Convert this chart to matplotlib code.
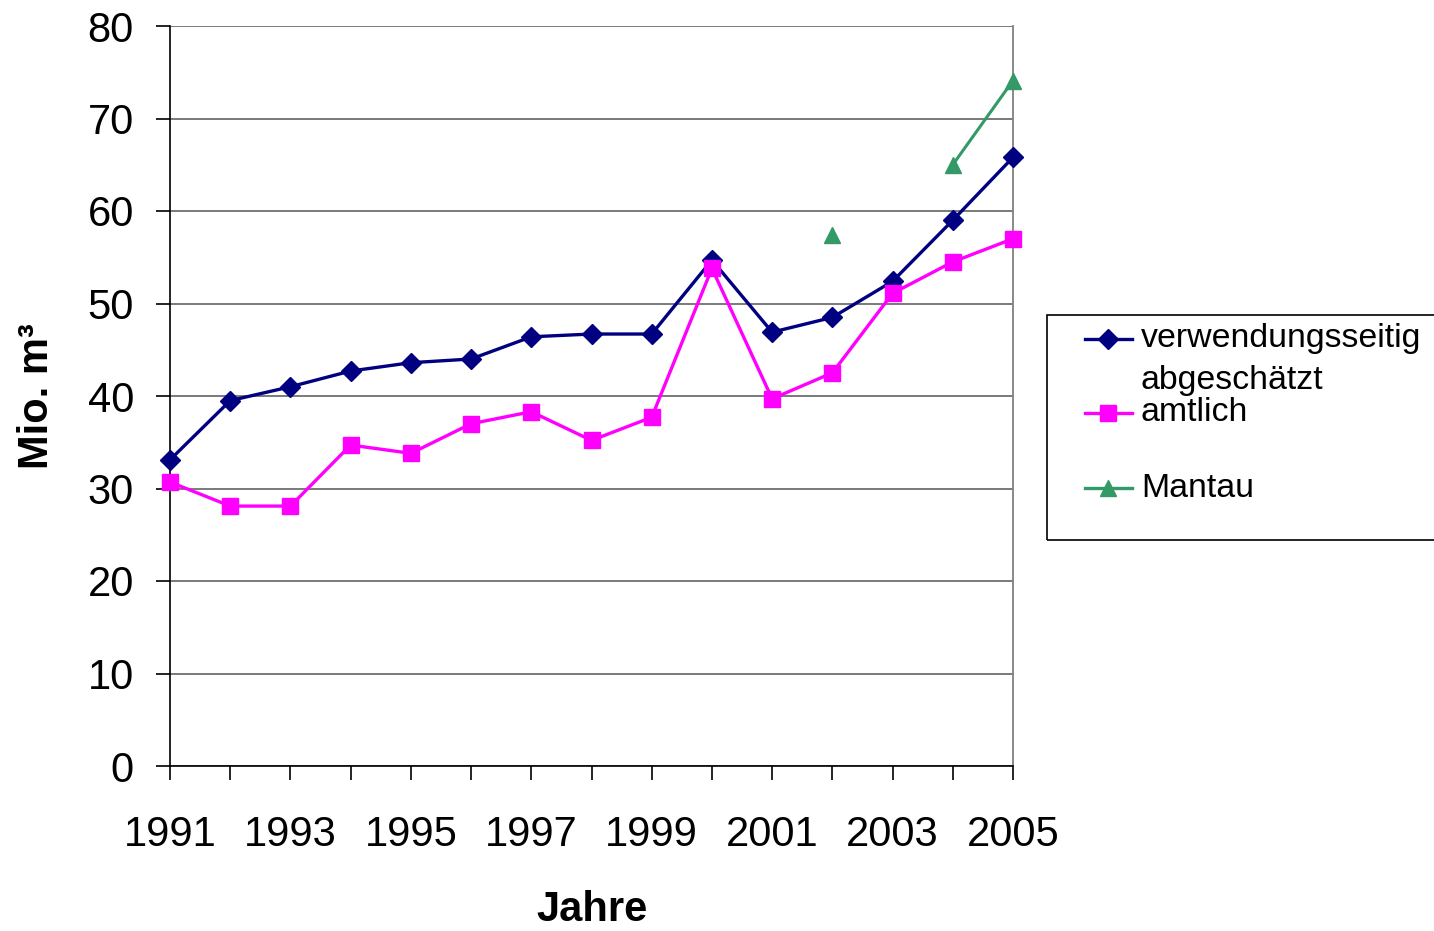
import matplotlib.pyplot as plt
import numpy as np
from matplotlib.lines import Line2D
from matplotlib.patches import Rectangle

plt.rcParams['font.family'] = ['Liberation Sans', 'DejaVu Sans']

years = list(range(1991, 2006))
verwendung = [33.1, 39.5, 41.0, 42.7, 43.6, 44.0, 46.4, 46.7, 46.7, 54.7, 46.9, 48.5, 52.4, 59.0, 65.8]
amtlich = [30.7, 28.1, 28.1, 34.7, 33.8, 37.0, 38.3, 35.2, 37.7, 53.8, 39.7, 42.5, 51.1, 54.5, 57.0]
# Mantau only has 2002, 2004, 2005 (nan = no value)
mantau = [np.nan] * 11 + [57.4, np.nan, 65.0, 74.1]

navy = '#000080'
pink = '#FF00FF'
green = '#339966'

fig = plt.figure(figsize=(14.34, 9.31), dpi=100)
ax = fig.add_axes([170 / 1434, 1 - 766 / 931, (1013 - 170) / 1434, (766 - 26) / 931])

ax.plot(years, verwendung, color=navy, lw=2.4, marker='D', ms=10, clip_on=False, zorder=3)
ax.plot(years, amtlich, color=pink, lw=2.4, marker='s', ms=11, clip_on=False, zorder=4)
ax.plot(years, mantau, color=green, lw=2.2, marker='^', ms=12, clip_on=False, zorder=5)

ax.set_xlim(1991, 2005)
ax.set_ylim(0, 80)
ax.set_yticks(range(0, 81, 10))
ax.set_xticks(years)
ax.set_xticklabels([str(y) if y % 2 == 1 else '' for y in years])
ax.yaxis.grid(True, color='#707070', lw=1.3)
ax.set_axisbelow(True)

ax.tick_params(axis='x', length=10, width=1.2, pad=25, labelsize=30, direction='out')
ax.tick_params(axis='y', length=10, width=1.2, pad=16, labelsize=30, direction='out')

ax.spines['top'].set_visible(False)
ax.spines['right'].set_color('#808080')
ax.spines['right'].set_linewidth(1.3)
ax.spines['left'].set_linewidth(1.2)
ax.spines['bottom'].set_linewidth(1.2)

fig.text(37 / 1434, 1 - 396 / 931, 'Mio. m³', rotation=90, ha='center', va='center',
         fontsize=30, fontweight='bold')
fig.text(592 / 1434, 1 - 910 / 931, 'Jahre', ha='center', va='center',
         fontsize=30, fontweight='bold')

# legend box, drawn by hand like the Excel one (cut off at the right edge)
W, H = 1434, 931
fig.patches.append(Rectangle((1047 / W, 1 - 540 / H), 420 / W, 225 / H, transform=fig.transFigure,
                             fill=False, edgecolor='black', lw=1.2))
entries = [(navy, 'D', 10, 339, ['verwendungsseitig', 'abgeschätzt']),
           (pink, 's', 11, 413, ['amtlich']),
           (green, '^', 12, 488, ['Mantau'])]
for col, mk, ms, ypx, lines in entries:
    fig.lines.append(Line2D([1085 / W, 1132 / W], [1 - ypx / H] * 2, transform=fig.transFigure,
                            color=col, lw=2.4))
    fig.lines.append(Line2D([1108 / W], [1 - ypx / H], transform=fig.transFigure,
                            color=col, marker=mk, ms=ms, lw=0))
    for i, t in enumerate(lines):
        fig.text(1141 / W, 1 - (ypx + i * 41) / H, t, ha='left', va='center', fontsize=24.4)

fig.savefig('out.png', dpi=100)
